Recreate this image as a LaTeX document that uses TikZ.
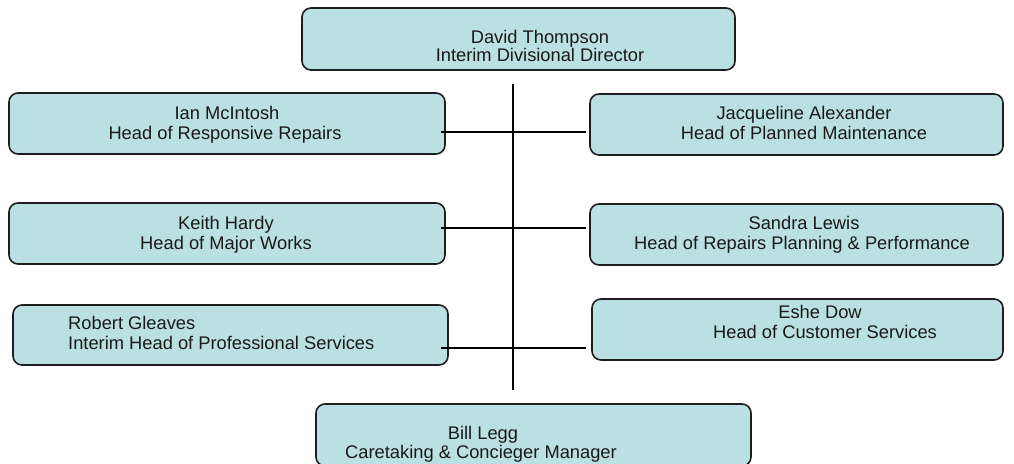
\documentclass[tikz,border=0pt]{standalone}
\usepackage{fontspec}
\setmainfont{Liberation Sans}
\definecolor{boxfill}{RGB}{187,224,227}
\definecolor{boxline}{RGB}{30,30,30}
\begin{document}
\begin{tikzpicture}[x=1pt,y=-1pt,
  orgbox/.style={draw=boxline, line width=1.6pt, fill=boxfill, rounded corners=9pt, inner sep=0pt, anchor=center},
  tx/.style={anchor=base, inner sep=0pt, font=\fontsize{18.3}{20}\selectfont, text=black!90},
  txl/.style={tx, anchor=base west},
  conn/.style={draw=black, line width=1.8pt}]
\useasboundingbox (0,0) rectangle (1014,463);
\clip (0,0) rectangle (1014,463);
% boxes
\node[orgbox, minimum width=433pt, minimum height=62pt] (top) at (518.5,39) {};
\node[orgbox, minimum width=436pt, minimum height=61pt] (ian) at (227,123.5) {};
\node[orgbox, minimum width=413pt, minimum height=61pt] (jac) at (796.5,124.5) {};
\node[orgbox, minimum width=436pt, minimum height=61pt] (keith) at (227,233.5) {};
\node[orgbox, minimum width=413pt, minimum height=61pt] (sandra) at (796.5,234.5) {};
\node[orgbox, minimum width=435pt, minimum height=60pt] (robert) at (230.5,335) {};
\node[orgbox, minimum width=411pt, minimum height=61pt] (eshe) at (797.5,329.5) {};
\node[orgbox, minimum width=435pt, minimum height=62pt] (bill) at (533.5,435) {};
% texts
\node[tx] (t1) at (540,43.5) {David Thompson};
\node[tx] (t2) at (540,61.5) {Interim Divisional Director};
\node[tx] (i1) at (227,119.5) {Ian McIntosh};
\node[tx] (i2) at (225,139.5) {Head of Responsive Repairs};
\node[tx] (j1) at (804,119.5) {Jacqueline Alexander};
\node[tx] (j2) at (804,139.5) {Head of Planned Maintenance};
\node[tx] (k1) at (226,229.5) {Keith Hardy};
\node[tx] (k2) at (226,249.5) {Head of Major Works};
\node[tx] (s1) at (804,229.5) {Sandra Lewis};
\node[tx] (s2) at (802,249.5) {Head of Repairs Planning \& Performance};
\node[txl] (r1) at (68,329.5) {Robert Gleaves};
\node[txl] (r2) at (68,349.5) {Interim Head of Professional Services};
\node[tx] (e1) at (820,318.5) {Eshe Dow};
\node[tx] (e2) at (825,338.5) {Head of Customer Services};
\node[tx] (b1) at (483,439.5) {Bill Legg};
\node[tx] (b2) at (481,458.5) {Caretaking \& Concieger Manager};
% connectors
\coordinate (vtop) at (513,84);
\coordinate (vbot) at (513,390);
\coordinate (h1l) at (441,132);
\coordinate (h1r) at (586,132);
\coordinate (h2l) at (441,228);
\coordinate (h2r) at (586,228);
\coordinate (h3l) at (441,348);
\coordinate (h3r) at (586,348);
\draw[conn] (vtop) -- (vbot);
\draw[conn] (h1l) -- (h1r);
\draw[conn] (h2l) -- (h2r);
\draw[conn] (h3l) -- (h3r);
\end{tikzpicture}
\end{document}
